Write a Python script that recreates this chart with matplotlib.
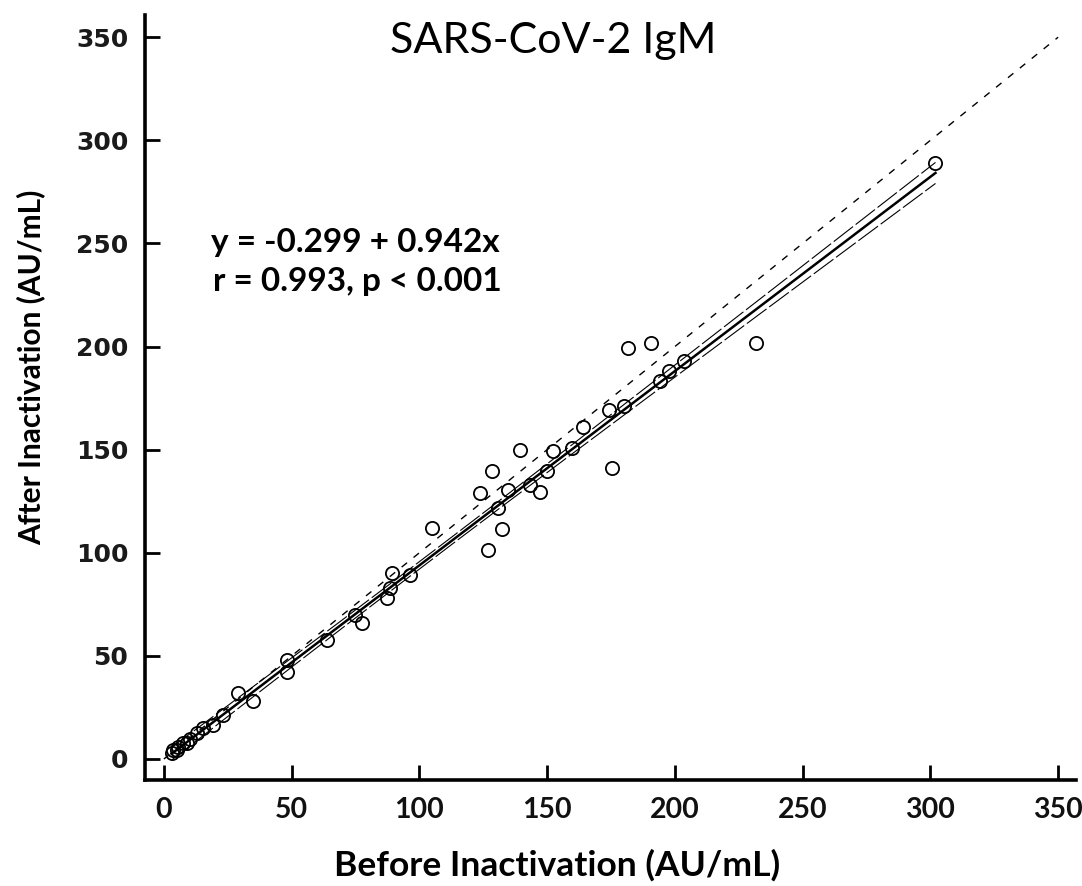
import numpy as np
import matplotlib
matplotlib.use("Agg")
import matplotlib.pyplot as plt

# values (AU/mL)
before = [3.0, 3.7, 5.0, 5.6, 7.6, 8.9, 10.2, 12.8, 15.4, 19.3, 23.2, 29.0, 34.9,
          48.2, 48.2, 63.8, 74.8, 77.4, 87.2, 88.5, 89.2, 96.4, 104.9, 123.8,
          126.9, 128.4, 130.8, 132.3, 134.7, 139.4, 143.4, 147.3, 149.9, 152.2,
          159.7, 164.0, 174.4, 175.4, 179.9, 181.7, 190.7, 194.0, 197.6, 203.4,
          231.8, 302.0]
after = [2.8, 4.4, 4.6, 6.0, 7.6, 8.0, 9.6, 12.5, 14.9, 16.5, 21.4, 32.0, 28.2,
         42.0, 48.0, 57.5, 69.9, 65.9, 78.0, 83.0, 90.1, 89.3, 112.0, 129.1,
         101.3, 139.5, 121.5, 111.3, 130.6, 150.0, 133.0, 129.7, 139.5, 149.5,
         150.8, 160.8, 169.4, 141.0, 171.0, 199.2, 201.5, 183.2, 188.0, 192.9,
         201.5, 288.8]

intercept = -0.299
slope = 0.942
r_value = 0.993
title = "SARS-CoV-2 IgM"
ticks = [0, 50, 100, 150, 200, 250, 300, 350]

x = np.array(before)
y = np.array(after)

# regression line and confidence band of the mean
xs = np.linspace(x.min(), x.max(), 200)
ys = intercept + slope * xs
n = len(x)
resid = y - (intercept + slope * x)
s = np.sqrt(np.sum(resid ** 2) / (n - 2))
sxx = np.sum((x - x.mean()) ** 2)
t_crit = 1.25
half = t_crit * s * np.sqrt(1.0 / n + (xs - x.mean()) ** 2 / sxx)

fig = plt.figure(figsize=(10.82, 8.86), dpi=100)
ax = fig.add_axes([0.134, 0.1196, 0.86, 0.864])

ax.plot([0, 350], [0, 350], color='black', lw=1.0, linestyle=(0, (5, 6)))
ax.plot(xs, ys + half, color='black', lw=0.8, linestyle=(0, (22, 3)))
ax.plot(xs, ys - half, color='black', lw=0.8, linestyle=(0, (22, 3)))
ax.plot(xs, ys, color='black', lw=1.8)
ax.plot(x, y, linestyle='none', marker='o', markersize=9.5,
        markerfacecolor='none', markeredgecolor='black', markeredgewidth=1.3)

ax.set_xlim(-7.4, 356.8)
ax.set_ylim(-10.2, 361)
ax.set_xticks(ticks)
ax.set_yticks(ticks)
ax.spines['top'].set_visible(False)
ax.spines['right'].set_visible(False)
ax.spines['left'].set_linewidth(2.6)
ax.spines['bottom'].set_linewidth(2.6)
ax.tick_params(direction='in', length=11, width=2, pad=12)

for lab in ax.get_yticklabels():
    lab.set_fontfamily('DejaVu Sans')
    lab.set_fontweight('bold')
    lab.set_fontsize(18)
    lab.set_color('#1a1a1a')
for lab in ax.get_xticklabels():
    lab.set_fontfamily('Lato')
    lab.set_fontweight('bold')
    lab.set_fontsize(20.5)
    lab.set_color('#111111')

ax.set_xlabel("Before Inactivation (AU/mL)", fontfamily='Lato', fontweight='bold',
              fontsize=25.5)
ax.set_ylabel("After Inactivation (AU/mL)", fontfamily='Lato', fontweight='bold',
              fontsize=21.5)
ax.xaxis.set_label_coords(0.443, -0.09)
ax.yaxis.set_label_coords(-0.107, 0.539)

ax.text(0.439, 0.966, title, transform=ax.transAxes, ha='center', va='center',
        fontfamily='Lato', fontsize=31)
ax.text(0.226, 0.702, f"y = {intercept} + {slope}x", transform=ax.transAxes,
        ha='center', va='center', fontfamily='Lato', fontweight='bold', fontsize=24)
ax.text(0.228, 0.651, f"r = {r_value}, p < 0.001", transform=ax.transAxes,
        ha='center', va='center', fontfamily='Lato', fontweight='bold', fontsize=24)

fig.savefig("out.png", dpi=100)
